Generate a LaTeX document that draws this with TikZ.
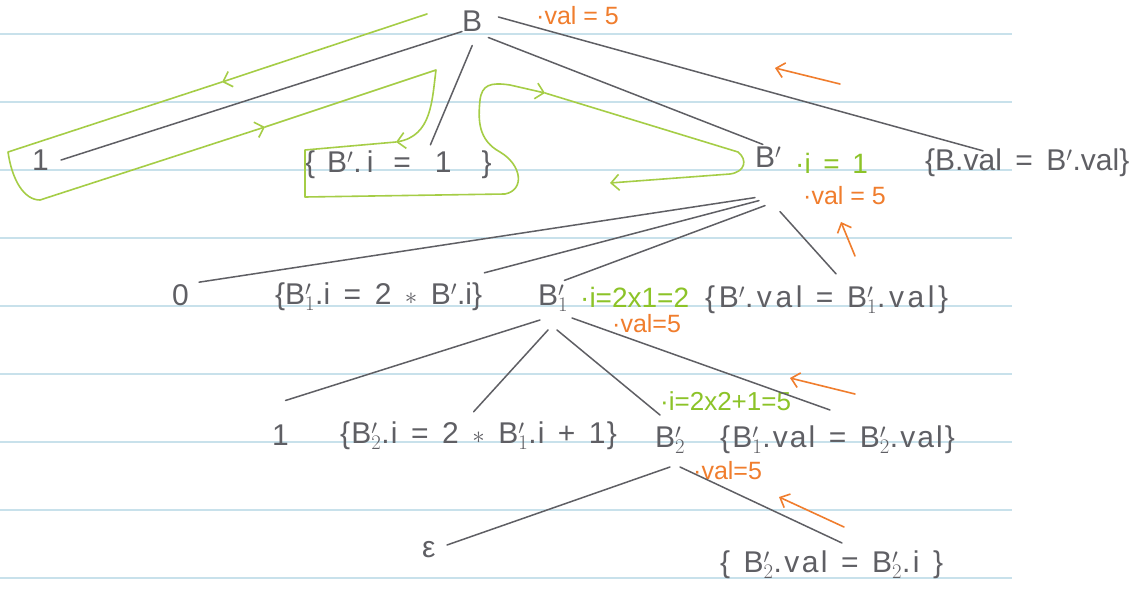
\documentclass[tikz,border=0pt]{standalone}
\usepackage{fontspec}
\setmainfont{Liberation Sans}
\usetikzlibrary{arrows.meta}
\definecolor{pencil}{RGB}{95,95,100}
\definecolor{ruleblue}{RGB}{200,225,235}
\definecolor{tourgreen}{RGB}{165,205,70}
\definecolor{inhgreen}{RGB}{140,195,40}
\definecolor{noteorange}{RGB}{240,125,45}
\newcommand{\Bp}[1][]{B$'_{#1}$}
\newcommand{\widespace}{\spaceskip=0.45em\relax}

\begin{document}
\begin{tikzpicture}[
  x=1pt, y=-1pt,
  txt/.style={anchor=west, inner sep=0pt, text=pencil, font=\fontsize{30}{36}\selectfont\widespace},
  spread/.style={txt, font=\fontsize{30}{36}\selectfont\addfontfeature{LetterSpace=#1}\widespace},
  inh/.style={anchor=west, inner sep=0pt, text=inhgreen, font=\fontsize{28}{32}\selectfont\widespace},
  val/.style={anchor=west, inner sep=0pt, text=noteorange, font=\fontsize{25}{30}\selectfont},
  edge/.style={draw=pencil, line width=1.5pt, line cap=round},
  ruling/.style={draw=ruleblue, line width=1.2pt},
  tour/.style={draw=tourgreen, line width=1.6pt, line cap=round, line join=round},
  tourarrow/.style={tour, -{Straight Barb[length=8pt, width=16pt]}},
  note/.style={draw=noteorange, line width=1.6pt, line cap=round, -{Straight Barb[length=8pt, width=15pt]}}
]
  \useasboundingbox[fill=white] (0,0) rectangle (1141,597);

  % Ruled paper.
  \foreach \y in {34,102,170,238,306,374,442,510,578}
    \draw[ruling] (0,\y) -- (1012,\y);

  % Root and its children.
  \node[txt] (B) at (462,21) {B};
  \node[val] (Bval) at (536,16) {·val = 5};
  \node[txt] (one) at (32,160) {1};
  \node[txt] (seti) at (305,165) {\{\hspace{12pt}\Bp.\,i\hspace{20pt}=\hspace{24pt}1\hspace{30pt}\}};
  \node[txt] (Bp) at (755,160) {\Bp\,};
  \node[inh] (Bpi) at (795,163) {·i = 1};
  \node[val] (Bpval) at (803,196) {·val = 5};
  \node[txt] (bval) at (925,163) {\{B.val = \Bp.val\}};

  % Children of B'.
  \node[txt] (zero) at (172,295) {0};
  \node[txt] (setone) at (275,297) {\{\Bp[1].i = 2 $\ast$ \Bp.i\}};
  \node[txt] (Bpone) at (538,298) {\Bp[1]};
  \node[inh] (Bponei) at (580,297) {·i=2x1=2};
  \node[val] (Bponeval) at (612,324) {·val=5};
  \node[spread=12] (bpval) at (705,300) {\{\Bp.val = \Bp[1].val\}};

  % Children of B'_1.
  \node[txt] (onetwo) at (272,435) {1};
  \node[spread=4] (settwo) at (340,436) {\{\Bp[2].i = 2 $\ast$ \Bp[1].i + 1\}};
  \node[txt] (Bptwo) at (655,440) {\Bp[2]};
  \node[inh, font=\fontsize{26}{30}\selectfont] (Bptwoi) at (660,401) {·i=2x2+1=5};
  \node[val] (Bptwoval) at (693,471) {·val=5};
  \node[spread=7] (bponeval) at (720,440) {\{\Bp[1].val = \Bp[2].val\}};

  % Children of B'_2.
  \node[txt] (eps) at (422,550) {ε};
  \node[spread=8] (bptwoval) at (720,565) {\{ \Bp[2].val = \Bp[2].i \}};

  % Parse tree edges.
  \draw[edge] (B.south west) -- ([xshift=12pt]one.east);
  \draw[edge] ([yshift=-14pt]B.south) -- ([xshift=32pt,yshift=6pt]seti.north);
  \draw[edge] ([xshift=6pt,yshift=-6pt]B.south east) -- ([xshift=-8pt,yshift=2pt]Bp.north);
  \draw[edge] ([xshift=16pt,yshift=4pt]B.east) -- ([xshift=58pt,yshift=-2pt]bval.north west);

  \draw[edge] ([yshift=-24pt]Bp.south west) -- ([xshift=10pt,yshift=2pt]zero.north east);
  \draw[edge] ([xshift=4pt,yshift=-27pt]Bp.south west) -- ([xshift=2pt,yshift=10pt]setone.north east);
  \draw[edge] ([xshift=10pt,yshift=-32pt]Bp.south west) -- ([xshift=-4pt,yshift=4pt]Bpone.north east);
  \draw[edge] ([xshift=25pt,yshift=-38pt]Bp.south west) -- ([xshift=131pt,yshift=12pt]bpval.north west);

  \draw[edge] ([xshift=2pt,yshift=-22pt]Bpone.west) -- ([xshift=5pt,yshift=24pt]onetwo.north);
  \draw[edge] ([xshift=10pt,yshift=-32pt]Bpone.west) -- ([xshift=-5pt,yshift=10pt]settwo.north);
  \draw[edge] ([xshift=19pt,yshift=-32pt]Bpone.west) -- ([xshift=5pt,yshift=25pt]Bptwo.west);
  \draw[edge] ([xshift=34pt,yshift=-20pt]Bpone.west) -- ([xshift=110pt,yshift=30pt]bponeval.west);

  \draw[edge] ([xshift=15pt,yshift=-27pt]Bptwo.west) -- ([xshift=25pt,yshift=5pt]eps.west);
  \draw[edge] ([xshift=25pt,yshift=-27pt]Bptwo.west) -- ([xshift=122pt,yshift=22pt]bptwoval.west);

  % Walk round the tree for the inherited attribute.
  \draw[tourarrow] (427,14) -- (222,82);
  \draw[tourarrow] (222,82) -- (8,152) .. controls (12,180) and (24,200) .. (40,200) -- (265,127);
  \draw[tourarrow] (265,127) -- (436,70) .. controls (432,100) and (432,136) .. (396,142);
  \draw[tourarrow] (396,142) -- (305,150) -- (305,197) -- (505,194)
    .. controls (525,190) and (522,165) .. (500,152)
    .. controls (478,140) and (478,120) .. (480,100)
    .. controls (482,85) and (490,82) .. (510,85) -- (545,93);
  \draw[tourarrow] (545,93) -- (738,152) .. controls (748,160) and (745,172) .. (730,174) -- (610,183);

  % Synthesized value going up.
  \draw[note] (840,84) -- (775,68);
  \draw[note] (855,256) -- (841,222);
  \draw[note] (855,394) -- (790,378);
  \draw[note] (844,527) -- (779,497);
\end{tikzpicture}
\end{document}
